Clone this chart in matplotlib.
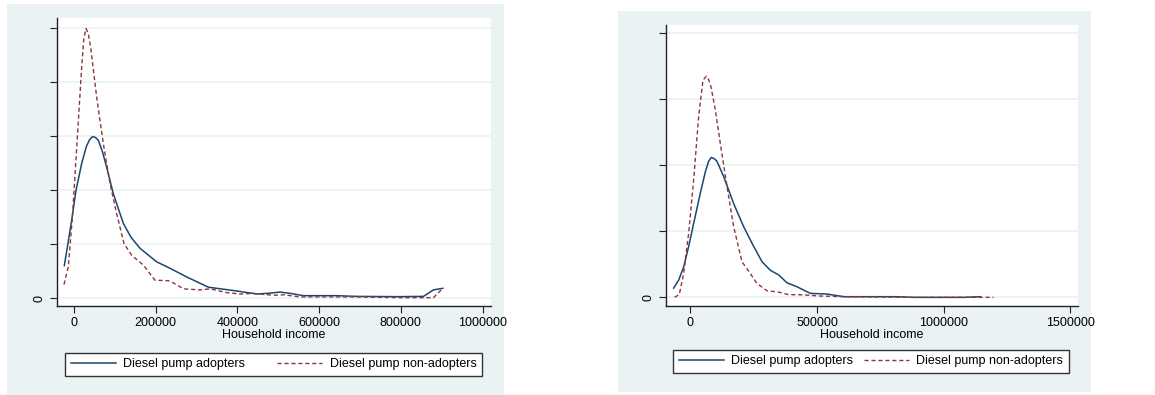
import matplotlib
matplotlib.use("Agg")
import matplotlib.pyplot as plt
from matplotlib.patches import Rectangle

plt.rcParams['font.family'] = ['Liberation Sans', 'DejaVu Sans']

# kernel density of household income, left sample
inc_a1 = [-23700, -15000, -5700, 5000, 18800, 30000, 38000, 45700, 53000, 59600, 70000,
          80000, 96300, 120800, 140000, 161600, 202400, 235100, 275900, 329000, 398400,
          447300, 480000, 504500, 529000, 561600, 643300, 692000, 798400, 855500, 880000, 902900]
dens_a1 = [0.60, 1.00, 1.44, 2.00, 2.49, 2.80, 2.93, 2.99, 2.97, 2.92, 2.70,
           2.42, 1.93, 1.38, 1.12, 0.92, 0.67, 0.55, 0.39, 0.20, 0.13,
           0.074, 0.09, 0.11, 0.086, 0.043, 0.043, 0.03, 0.025, 0.03, 0.15, 0.18]
inc_n1 = [-24500, -13900, -3300, 8200, 18800, 24000, 29400, 35000, 40800, 55500, 71800,
          88200, 104500, 122400, 141200, 169800, 198400, 231000, 243300, 267800, 308600,
          333100, 373900, 406500, 439200, 488200, 512700, 553500, 635100, 692000, 798400,
          880000, 902900]
dens_n1 = [0.25, 0.58, 1.56, 2.98, 4.27, 4.80, 4.99, 4.90, 4.64, 3.72, 2.86,
           2.12, 1.56, 1.01, 0.79, 0.61, 0.33, 0.32, 0.28, 0.17, 0.15,
           0.17, 0.10, 0.074, 0.086, 0.05, 0.06, 0.02, 0.02, 0.02, 0.006,
           0.006, 0.18]

# kernel density of household income, right sample
inc_a2 = [-65800, -46100, -26300, -6600, 13200, 39500, 59200, 72000, 82900, 95000, 105300,
          131600, 171100, 210500, 243400, 282900, 315800, 348700, 381600, 421100, 473700,
          539500, 605300, 815800, 881600, 1078900, 1144700]
dens_a2 = [0.14, 0.26, 0.46, 0.77, 1.12, 1.58, 1.90, 2.06, 2.12, 2.10, 2.06,
           1.83, 1.42, 1.07, 0.82, 0.54, 0.41, 0.34, 0.22, 0.16, 0.06,
           0.05, 0.01, 0.01, 0.0, 0.0, 0.01]
inc_n2 = [-61800, -43400, -26300, -6600, 13200, 32900, 50000, 63200, 72000, 81600, 98700,
          118400, 144700, 171100, 203900, 236800, 263200, 302600, 348700, 388200, 434200,
          513200, 618400, 881600, 1197400]
dens_n2 = [0.0, 0.045, 0.36, 0.97, 1.78, 2.74, 3.29, 3.35, 3.30, 3.19, 2.84,
           2.33, 1.68, 1.07, 0.54, 0.36, 0.21, 0.10, 0.08, 0.04, 0.04,
           0.02, 0.01, 0.0, 0.0]

xticks1 = [0, 200000, 400000, 600000, 800000, 1000000]
xticks2 = [0, 500000, 1000000, 1500000]
yticks1 = [0, 1, 2, 3, 4, 5]
yticks2 = [0, 1, 2, 3, 4]
labels = ['Diesel pump adopters', 'Diesel pump non-adopters']

navy = '#1a476f'
maroon = '#90353b'
bg = '#eaf2f3'

W, H = 1155, 395
fig = plt.figure(figsize=(W / 100, H / 100), dpi=100)

# grey graph regions, on an axes that sits behind the plots
back = fig.add_axes([0, 0, 1, 1], zorder=-5)
back.set_xlim(0, W)
back.set_ylim(H, 0)
back.axis('off')
back.add_patch(Rectangle((7, 4), 497, 391, facecolor=bg, edgecolor='none'))
back.add_patch(Rectangle((618, 11), 473, 381, facecolor=bg, edgecolor='none'))


def panel(rect, xa, ya, xn, yn, xticks, yticks, xlim, ylim, leg_box):
    ax = fig.add_axes(rect)
    ax.set_facecolor('white')
    ax.plot(xa, ya, color=navy, lw=1.1, label=labels[0])
    ax.plot(xn, yn, color=maroon, lw=1.0, dashes=(3, 2), label=labels[1])
    ax.set_xlim(xlim)
    ax.set_ylim(ylim)
    ax.set_xticks(xticks)
    ax.set_xticklabels([str(t) for t in xticks])
    ax.set_yticks(yticks)
    ax.set_yticklabels(['0'] + [''] * (len(yticks) - 1), rotation=90, va='center')
    for t in yticks:
        ax.axhline(t, color=bg, lw=1.2, zorder=0)
    for s in ['top', 'right']:
        ax.spines[s].set_visible(False)
    for s in ['left', 'bottom']:
        ax.spines[s].set_color('#222222')
        ax.spines[s].set_linewidth(1.0)
    ax.tick_params(axis='both', length=5, width=0.8, color='#222222', labelsize=9, pad=3)
    ax.set_xlabel('Household income', fontsize=9, labelpad=0)
    ax.legend(loc='lower left', bbox_to_anchor=leg_box, bbox_transform=fig.transFigure,
              mode='expand', ncol=2, fontsize=9, frameon=True, fancybox=False,
              edgecolor='#333333', framealpha=1, handlelength=3.6, handletextpad=0.6,
              borderpad=0.45, borderaxespad=0)
    ax.get_legend().get_frame().set_linewidth(1.0)
    return ax


panel([57 / W, 89 / H, 434 / W, 288 / H], inc_a1, dens_a1, inc_n1, dens_n1,
      xticks1, yticks1, (-41600, 1020800), (-0.148, 5.185),
      (65 / W, 19 / H, 417 / W, 25 / H))
panel([666 / W, 89 / H, 412 / W, 281 / H], inc_a2, dens_a2, inc_n2, dens_n2,
      xticks2, yticks2, (-96000, 1530000), (-0.131, 4.126),
      (673 / W, 22 / H, 396 / W, 24 / H))

fig.savefig('out.png', dpi=100)
